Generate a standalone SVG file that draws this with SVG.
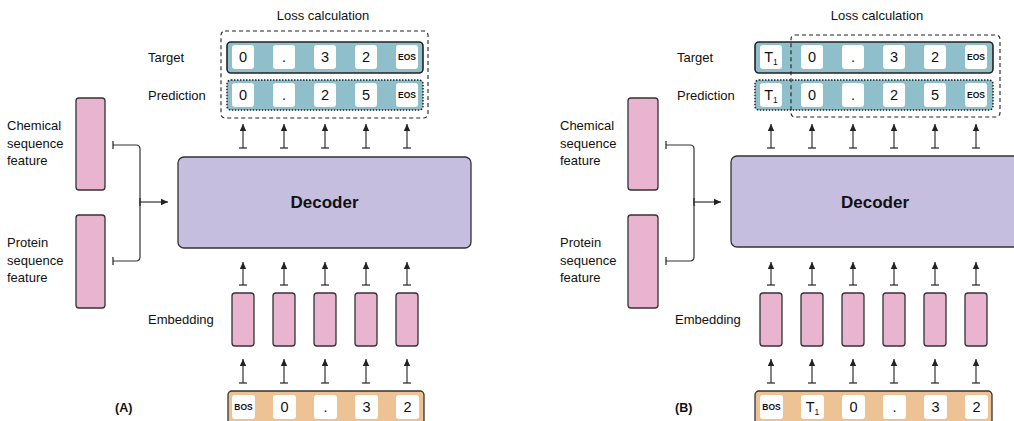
<svg xmlns="http://www.w3.org/2000/svg" width="1014" height="421" viewBox="0 0 1014 421">
<defs>
<marker id="ah" markerWidth="8" markerHeight="8" refX="7" refY="4" orient="auto" markerUnits="userSpaceOnUse">
<path d="M0,0.8 L7,4 L0,7.2 Z" fill="#222"/>
</marker>
<marker id="tee" markerWidth="2" markerHeight="10" refX="1" refY="5" orient="auto" markerUnits="userSpaceOnUse">
<path d="M1,1 L1,9" stroke="#222" stroke-width="1.2"/>
</marker>
</defs>
<style>
text{font-family:"Liberation Sans",Arial,sans-serif;fill:#111}
.lbl{font-size:13px}
.cell{fill:#fff;stroke:none}
.num{font-size:14.5px;text-anchor:middle}
.tok{font-size:8.5px;font-weight:bold;text-anchor:middle}
.emb{fill:#E8B4CF;stroke:#333;stroke-width:1.3}
.feat{fill:#E8B4CF;stroke:#333;stroke-width:1.3}
.dec{fill:#C5BEDF;stroke:#333;stroke-width:1.3}
.tgt{fill:#8FBFCB;stroke:#222;stroke-width:1.6}
.pred{fill:#8FBFCB;stroke:#222;stroke-width:1.5;stroke-dasharray:1.5 1.5}
.inp{fill:#EDC396;stroke:#333;stroke-width:1.3}
.loss{fill:none;stroke:#222;stroke-width:1.1;stroke-dasharray:4 3}
.arr{stroke:#333;stroke-width:1.2;fill:none;marker-end:url(#ah);marker-start:url(#tee)}
.br{stroke:#333;stroke-width:1.2;fill:none}
.title{font-size:17px;font-weight:bold;text-anchor:middle}
.pl{font-size:12.5px;font-weight:bold}
</style>

<!-- ============ Panel A ============ -->
<g id="A-labels">
<text class="lbl" x="323" y="20" text-anchor="middle">Loss calculation</text>
<text class="lbl" x="148" y="62">Target</text>
<text class="lbl" x="148" y="100">Prediction</text>
<text class="lbl" x="7" y="130">Chemical</text>
<text class="lbl" x="7" y="148">sequence</text>
<text class="lbl" x="7" y="165">feature</text>
<text class="lbl" x="7" y="247">Protein</text>
<text class="lbl" x="7" y="265">sequence</text>
<text class="lbl" x="7" y="282">feature</text>
<text class="lbl" x="148" y="324">Embedding</text>
<text class="pl" x="115" y="412">(A)</text>
</g>

<g id="A-target">
<rect class="tgt" x="227" y="42" width="196" height="31" rx="4"/>
<rect class="cell" x="232" y="45" width="22" height="24" rx="3"/>
<rect class="cell" x="273" y="45" width="22" height="24" rx="3"/>
<rect class="cell" x="314" y="45" width="22" height="24" rx="3"/>
<rect class="cell" x="355" y="45" width="22" height="24" rx="3"/>
<rect class="cell" x="396" y="45" width="22" height="24" rx="3"/>
<text class="num" x="243" y="62">0</text>
<text class="num" x="284" y="62">.</text>
<text class="num" x="325" y="62">3</text>
<text class="num" x="366" y="62">2</text>
<text class="tok" x="407" y="60">EOS</text>
</g>

<g id="A-prediction">
<rect class="pred" x="227" y="80" width="196" height="30" rx="4"/>
<rect class="cell" x="232" y="83" width="22" height="24" rx="3"/>
<rect class="cell" x="273" y="83" width="22" height="24" rx="3"/>
<rect class="cell" x="314" y="83" width="22" height="24" rx="3"/>
<rect class="cell" x="355" y="83" width="22" height="24" rx="3"/>
<rect class="cell" x="396" y="83" width="22" height="24" rx="3"/>
<text class="num" x="243" y="100">0</text>
<text class="num" x="284" y="100">.</text>
<text class="num" x="325" y="100">2</text>
<text class="num" x="366" y="100">5</text>
<text class="tok" x="407" y="98">EOS</text>
</g>

<g id="A-loss">
<rect class="loss" x="221" y="31" width="207" height="87" rx="4"/>
</g>

<g id="A-chem"><rect class="feat" x="76" y="98" width="29" height="92" rx="3"/></g>
<g id="A-prot"><rect class="feat" x="76" y="215" width="29" height="93" rx="3"/></g>

<g id="A-decoder">
<rect class="dec" x="178" y="157" width="293" height="91" rx="6"/>
<text class="title" x="324.5" y="208">Decoder</text>
</g>

<g id="A-embedding">
<rect class="emb" x="232" y="293" width="22" height="53" rx="3"/>
<rect class="emb" x="273" y="293" width="22" height="53" rx="3"/>
<rect class="emb" x="314" y="293" width="22" height="53" rx="3"/>
<rect class="emb" x="355" y="293" width="22" height="53" rx="3"/>
<rect class="emb" x="396" y="293" width="22" height="53" rx="3"/>
</g>

<g id="A-input">
<rect class="inp" x="228" y="391" width="196" height="40" rx="4"/>
<rect class="cell" x="232" y="395" width="23" height="24" rx="3"/>
<rect class="cell" x="273" y="395" width="23" height="24" rx="3"/>
<rect class="cell" x="314" y="395" width="23" height="24" rx="3"/>
<rect class="cell" x="355" y="395" width="23" height="24" rx="3"/>
<rect class="cell" x="396" y="395" width="23" height="24" rx="3"/>
<text class="tok" x="243.5" y="410">BOS</text>
<text class="num" x="284.5" y="412">0</text>
<text class="num" x="325.5" y="412">.</text>
<text class="num" x="366.5" y="412">3</text>
<text class="num" x="407.5" y="412">2</text>
</g>

<g id="A-connectors">
<path class="br" d="M113,145 H136 Q140,145 140,149 V257 Q140,261 136,261 H113" marker-start="url(#tee)" marker-end="url(#tee)"/>
<path class="arr" d="M140,202 H168" marker-start="none"/>
<path class="arr" d="M243,148 V124"/>
<path class="arr" d="M284,148 V124"/>
<path class="arr" d="M325,148 V124"/>
<path class="arr" d="M366,148 V124"/>
<path class="arr" d="M407,148 V124"/>
<path class="arr" d="M243,285 V262"/>
<path class="arr" d="M284,285 V262"/>
<path class="arr" d="M325,285 V262"/>
<path class="arr" d="M366,285 V262"/>
<path class="arr" d="M407,285 V262"/>
<path class="arr" d="M243,383 V359"/>
<path class="arr" d="M284,383 V359"/>
<path class="arr" d="M325,383 V359"/>
<path class="arr" d="M366,383 V359"/>
<path class="arr" d="M407,383 V359"/>
</g>

<!-- ============ Panel B ============ -->
<g id="B-labels">
<text class="lbl" x="877" y="20" text-anchor="middle">Loss calculation</text>
<text class="lbl" x="677" y="62">Target</text>
<text class="lbl" x="677" y="100">Prediction</text>
<text class="lbl" x="560" y="130">Chemical</text>
<text class="lbl" x="560" y="148">sequence</text>
<text class="lbl" x="560" y="165">feature</text>
<text class="lbl" x="560" y="247">Protein</text>
<text class="lbl" x="560" y="265">sequence</text>
<text class="lbl" x="560" y="282">feature</text>
<text class="lbl" x="675" y="324">Embedding</text>
<text class="pl" x="675" y="412">(B)</text>
</g>

<g id="B-target">
<rect class="tgt" x="755" y="42" width="238" height="31" rx="4"/>
<rect class="cell" x="760" y="45" width="22" height="24" rx="3"/>
<rect class="cell" x="801" y="45" width="22" height="24" rx="3"/>
<rect class="cell" x="842" y="45" width="22" height="24" rx="3"/>
<rect class="cell" x="883" y="45" width="22" height="24" rx="3"/>
<rect class="cell" x="924" y="45" width="22" height="24" rx="3"/>
<rect class="cell" x="965" y="45" width="22" height="24" rx="3"/>
<text class="num" x="771" y="62">T<tspan font-size="8.5" dy="3">1</tspan></text>
<text class="num" x="812" y="62">0</text>
<text class="num" x="853" y="62">.</text>
<text class="num" x="894" y="62">3</text>
<text class="num" x="935" y="62">2</text>
<text class="tok" x="976" y="60">EOS</text>
</g>

<g id="B-prediction">
<rect class="pred" x="755" y="80" width="238" height="30" rx="4"/>
<rect class="cell" x="760" y="83" width="22" height="24" rx="3"/>
<rect class="cell" x="801" y="83" width="22" height="24" rx="3"/>
<rect class="cell" x="842" y="83" width="22" height="24" rx="3"/>
<rect class="cell" x="883" y="83" width="22" height="24" rx="3"/>
<rect class="cell" x="924" y="83" width="22" height="24" rx="3"/>
<rect class="cell" x="965" y="83" width="22" height="24" rx="3"/>
<text class="num" x="771" y="100">T<tspan font-size="8.5" dy="3">1</tspan></text>
<text class="num" x="812" y="100">0</text>
<text class="num" x="853" y="100">.</text>
<text class="num" x="894" y="100">2</text>
<text class="num" x="935" y="100">5</text>
<text class="tok" x="976" y="98">EOS</text>
</g>

<g id="B-loss">
<rect class="loss" x="791" y="35" width="209" height="82" rx="4"/>
</g>

<g id="B-chem"><rect class="feat" x="628" y="98" width="30" height="92" rx="3"/></g>
<g id="B-prot"><rect class="feat" x="628" y="215" width="30" height="93" rx="3"/></g>

<g id="B-decoder">
<rect class="dec" x="731" y="156" width="293" height="91" rx="6"/>
<text class="title" x="875" y="208">Decoder</text>
</g>

<g id="B-embedding">
<rect class="emb" x="760" y="293" width="22" height="53" rx="3"/>
<rect class="emb" x="801" y="293" width="22" height="53" rx="3"/>
<rect class="emb" x="842" y="293" width="22" height="53" rx="3"/>
<rect class="emb" x="883" y="293" width="22" height="53" rx="3"/>
<rect class="emb" x="924" y="293" width="22" height="53" rx="3"/>
<rect class="emb" x="965" y="293" width="22" height="53" rx="3"/>
</g>

<g id="B-input">
<rect class="inp" x="755" y="391" width="237" height="40" rx="4"/>
<rect class="cell" x="760" y="395" width="23" height="24" rx="3"/>
<rect class="cell" x="801" y="395" width="23" height="24" rx="3"/>
<rect class="cell" x="842" y="395" width="23" height="24" rx="3"/>
<rect class="cell" x="883" y="395" width="23" height="24" rx="3"/>
<rect class="cell" x="924" y="395" width="23" height="24" rx="3"/>
<rect class="cell" x="965" y="395" width="23" height="24" rx="3"/>
<text class="tok" x="771.5" y="410">BOS</text>
<text class="num" x="812.5" y="412">T<tspan font-size="8.5" dy="3">1</tspan></text>
<text class="num" x="853.5" y="412">0</text>
<text class="num" x="894.5" y="412">.</text>
<text class="num" x="935.5" y="412">3</text>
<text class="num" x="976.5" y="412">2</text>
</g>

<g id="B-connectors">
<path class="br" d="M666,145 H690 Q694,145 694,149 V257 Q694,261 690,261 H666" marker-start="url(#tee)" marker-end="url(#tee)"/>
<path class="arr" d="M694,202 H721" marker-start="none"/>
<path class="arr" d="M771,148 V124"/>
<path class="arr" d="M812,148 V124"/>
<path class="arr" d="M853,148 V124"/>
<path class="arr" d="M894,148 V124"/>
<path class="arr" d="M935,148 V124"/>
<path class="arr" d="M976,148 V124"/>
<path class="arr" d="M771,285 V262"/>
<path class="arr" d="M812,285 V262"/>
<path class="arr" d="M853,285 V262"/>
<path class="arr" d="M894,285 V262"/>
<path class="arr" d="M935,285 V262"/>
<path class="arr" d="M976,285 V262"/>
<path class="arr" d="M771,383 V359"/>
<path class="arr" d="M812,383 V359"/>
<path class="arr" d="M853,383 V359"/>
<path class="arr" d="M894,383 V359"/>
<path class="arr" d="M935,383 V359"/>
<path class="arr" d="M976,383 V359"/>
</g>
</svg>
